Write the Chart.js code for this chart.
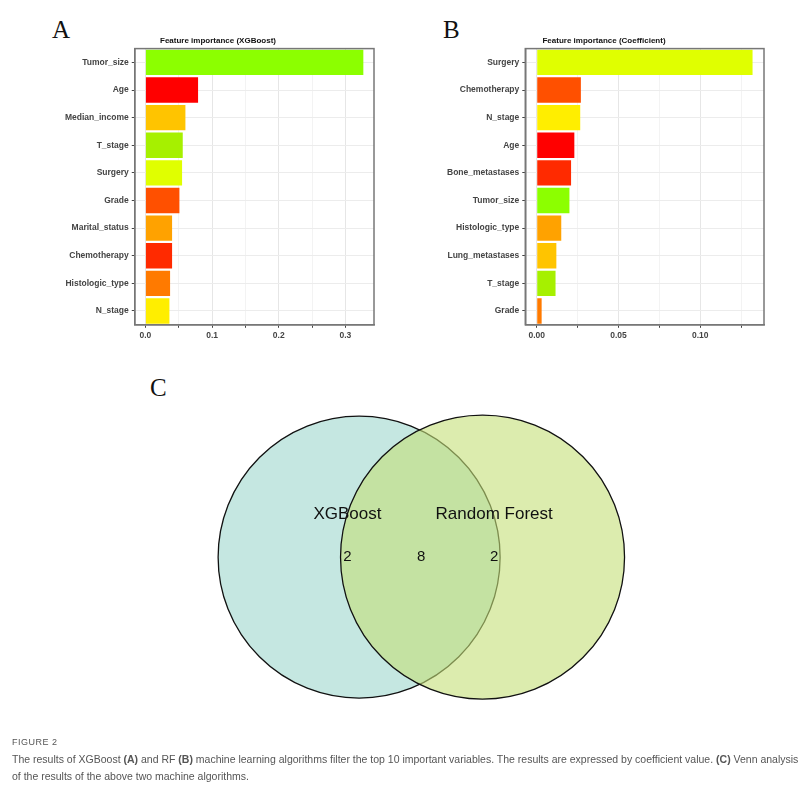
<!DOCTYPE html>
<html>
<head>
<script src="https://cdn.jsdelivr.net/npm/chart.js"></script>
<style>
  body { margin: 0; background: #fff; font-family: "Liberation Sans", Arial, sans-serif; }
  .box { position: absolute; }
  .letter { position: absolute; font-family: "Liberation Serif", serif; font-size: 25px; color: #111; }
  .cap { position: absolute; left: 12px; top: 733px; width: 790px; color: #555; font-size: 10.5px; line-height: 17px; }
</style>
</head>
<body>
<div class="letter" style="left:52px;top:16px">A</div>
<div class="letter" style="left:443px;top:16px">B</div>
<div class="letter" style="left:150px;top:374px">C</div>
<div class="box" style="left:40px;top:30px;width:340px;height:318px"><canvas id="chartA"></canvas></div>
<div class="box" style="left:430px;top:30px;width:340px;height:318px"><canvas id="chartB"></canvas></div>
<canvas id="venn" width="810" height="380" style="position:absolute;left:0;top:360px;width:810px;height:380px"></canvas>
<div class="cap"><span style="font-size:9px;letter-spacing:0.5px">FIGURE 2</span><br>
The results of XGBoost <b>(A)</b> and RF <b>(B)</b> machine learning algorithms filter the top 10 important variables. The results are expressed by coefficient value. <b>(C)</b> Venn analysis of the results of the above two machine algorithms.</div>
<script>
// Panel A
const xgbFeatures = ['Tumor_size', 'Age', 'Median_income', 'T_stage', 'Surgery', 'Grade', 'Marital_status', 'Chemotherapy', 'Histologic_type', 'N_stage'];
const xgbValues = [0.327, 0.079, 0.060, 0.056, 0.055, 0.051, 0.040, 0.040, 0.037, 0.036];
const xgbColors = ['#8cff00', '#ff0000', '#ffc400', '#a6f000', '#e0ff00', '#ff5000', '#ffa200', '#ff2a00', '#ff7a00', '#ffee00'];

// Panel B
const coefFeatures = ['Surgery', 'Chemotherapy', 'N_stage', 'Age', 'Bone_metastases', 'Tumor_size', 'Histologic_type', 'Lung_metastases', 'T_stage', 'Grade'];
const coefValues = [0.132, 0.027, 0.0266, 0.023, 0.021, 0.020, 0.015, 0.012, 0.0115, 0.003];
const coefColors = ['#e0ff00', '#ff5000', '#ffee00', '#ff0000', '#ff2a00', '#8cff00', '#ffa200', '#ffc400', '#a6f000', '#ff7a00'];

// Panel C (Venn)
const vennSets = ['XGBoost', 'Random Forest'];
const vennCounts = [2, 8, 2]; // only XGBoost, both, only RF

function barChart(id, title, labels, values, colors, min, max, step, major, padLeft) {
  new Chart(document.getElementById(id), {
    type: 'bar',
    data: { labels: labels, datasets: [{ data: values, backgroundColor: colors, categoryPercentage: 0.92, barPercentage: 1 }] },
    options: {
      indexAxis: 'y', responsive: true, maintainAspectRatio: false, animation: false,
      layout: { padding: { left: padLeft, right: 6, bottom: 4 } },
      plugins: {
        legend: { display: false }, tooltip: { enabled: false },
        title: { display: true, text: title, color: '#111', font: { size: 8, weight: 'bold' }, padding: { top: 6, bottom: 3 } }
      },
      scales: {
        x: {
          min: min, max: max,
          afterBuildTicks: a => { a.ticks = []; for (let v = 0; v <= max + 1e-9; v += step) a.ticks.push({ value: +v.toFixed(4) }); },
          ticks: { color: '#444', font: { size: 8.5, weight: 'bold' },
            callback: v => (Math.abs(v / major - Math.round(v / major)) < 1e-6) ? (major === 0.1 ? v.toFixed(1) : v.toFixed(2)) : '' },
          grid: { color: c => (c.tick && Math.abs(c.tick.value / major - Math.round(c.tick.value / major)) < 1e-6) ? '#e6e6e6' : '#f3f3f3', tickColor: '#444', tickLength: 3 },
          border: { color: '#777', width: 1.5 }
        },
        y: {
          ticks: { color: '#444', font: { size: 8.5, weight: 'bold' } },
          grid: { color: '#ececec', tickColor: '#444', tickLength: 3, offset: false },
          border: { color: '#777', width: 1.5 }
        }
      }
    },
    plugins: [{
      id: 'frame',
      afterDraw(ch) {
        const a = ch.chartArea, c = ch.ctx;
        c.save(); c.strokeStyle = '#777'; c.lineWidth = 1.5;
        c.strokeRect(a.left, a.top, a.right - a.left, a.bottom - a.top); c.restore();
      }
    }]
  });
}
barChart('chartA', 'Feature importance (XGBoost)', xgbFeatures, xgbValues, xgbColors, -0.016, 0.343, 0.05, 0.1, 22);
barChart('chartB', 'Feature importance (Coefficient)', coefFeatures, coefValues, coefColors, -0.007, 0.139, 0.025, 0.05, 14);

// Venn drawn as two bubbles; data space = page pixels
const vennPoints = [{ x: 334, y: 579, r: 141 }, { x: 525, y: 579, r: 142 }];
new Chart(document.getElementById('venn'), {
  type: 'bubble',
  data: { datasets: [{
    data: vennPoints, clip: false,
    radius: c => { const s = c.chart.scales.x; return s.getPixelForValue(c.raw.r) - s.getPixelForValue(0); },
    backgroundColor: ['rgba(150,212,200,0.55)', 'rgba(196,224,120,0.6)'],
    borderColor: '#111', borderWidth: 1.3
  }] },
  options: {
    responsive: false, animation: false,
    layout: { padding: 0 },
    plugins: { legend: { display: false }, tooltip: { enabled: false } },
    scales: {
      x: { display: false, min: 0, max: 810 },
      y: { display: false, min: 360, max: 740, reverse: true }
    }
  },
  plugins: [{
    id: 'vennText',
    afterDraw(ch) {
      const c = ch.ctx, sx = ch.scales.x, sy = ch.scales.y;
      c.save(); c.fillStyle = '#111'; c.textAlign = 'center'; c.textBaseline = 'middle';
      c.font = '17px "Liberation Sans", Arial';
      c.fillText(vennSets[0], sx.getPixelForValue(316), sy.getPixelForValue(405));
      c.fillText(vennSets[1], sx.getPixelForValue(543), sy.getPixelForValue(405));
      c.font = '15px "Liberation Sans", Arial';
      const xs = [316, 430, 543];
      vennCounts.forEach((n, i) => c.fillText(String(n), sx.getPixelForValue(xs[i]), sy.getPixelForValue(579)));
      c.restore();
    }
  }]
});
</script>
</body>
</html>
